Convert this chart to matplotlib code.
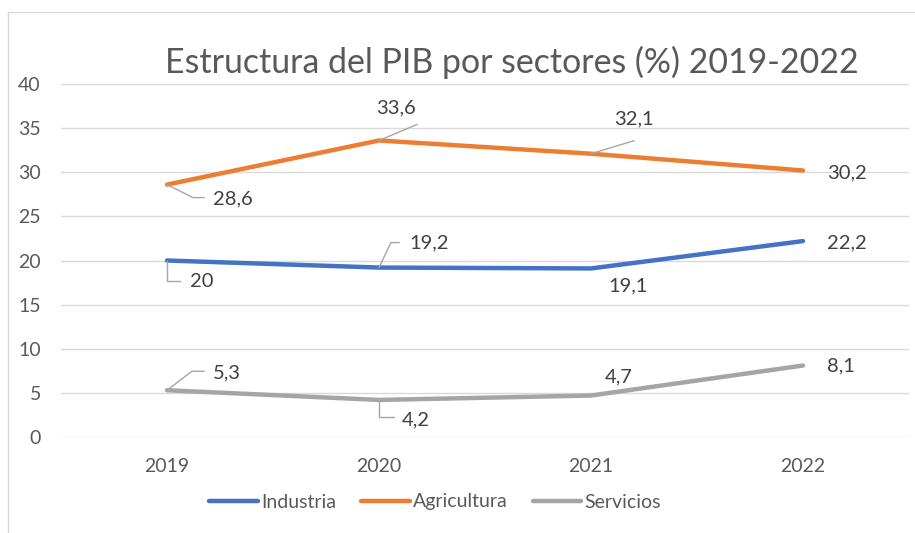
import matplotlib
matplotlib.use("Agg")
import matplotlib.pyplot as plt
from matplotlib.lines import Line2D
from matplotlib.transforms import Affine2D

plt.rcParams["font.family"] = ["Lato", "DejaVu Sans"]

anos = ["2019", "2020", "2021", "2022"]
industria = [20, 19.2, 19.1, 22.2]
agricultura = [28.6, 33.6, 32.1, 30.2]
servicios = [5.3, 4.2, 4.7, 8.1]
series = [("Industria", industria, "#4472C4"),
          ("Agricultura", agricultura, "#ED7D31"),
          ("Servicios", servicios, "#A5A5A5")]

# posicion de cada etiqueta (offset en px) y guia (vertices en px) por serie
etiquetas = {
    "Industria": [((23, -21), "left", [(0, 0), (0, -20), (13, -20)]),
                  ((30, 25), "left", [(0, 0), (12, 25), (20, 25)]),
                  ((37, -17), "center", None),
                  ((44, -2), "center", None)],
    "Agricultura": [((46, -14), "left", [(0, 0), (26, -13), (37, -13)]),
                    ((17, 33), "center", [(0, 0), (38, 16)]),
                    ((43, 35), "center", [(0, 0), (43, 13)]),
                    ((44, -2), "center", None)],
    "Servicios": [((46, 17), "left", [(0, 0), (25, 19), (37, 19)]),
                  ((23, -20), "left", [(0, 0), (0, -17), (15, -17)]),
                  ((28, 19), "center", None),
                  ((38, 0), "center", None)],
}

GRIS = "#595959"
fig = plt.figure(figsize=(9.15, 5.33), dpi=100)
ax = fig.add_axes([61 / 915, 1 - 437 / 533, 848 / 915, 353 / 533])
x = range(len(anos))
ax.set_xlim(-0.5, len(anos) - 0.5)
ax.set_ylim(0, 40)
ax.set_yticks(range(0, 41, 5))
ax.set_xticks(list(x))
ax.set_xticklabels(anos)
ax.grid(axis="y", color="#D9D9D9", lw=1)
ax.set_axisbelow(True)
for s in ax.spines.values():
    s.set_visible(False)
ax.tick_params(length=0, labelsize=14, colors=GRIS)
ax.tick_params(axis="x", pad=15)
ax.tick_params(axis="y", pad=14.5)

for nome, vals, cor in series:
    ax.plot(x, vals, color=cor, lw=3.2, solid_capstyle="round", label=nome)

fig.canvas.draw()
for nome, vals, cor in series:
    for i, v in enumerate(vals):
        (dx, dy), ha, guia = etiquetas[nome][i]
        ax.annotate(f"{v:g}".replace(".", ","), (i, v), xytext=(dx, dy),
                    textcoords="offset pixels", ha=ha, va="center",
                    fontsize=14.5, color="#404040")
        if guia:
            px, py = ax.transData.transform((i, v))
            gx = [p[0] for p in guia]
            gy = [p[1] for p in guia]
            fig.add_artist(Line2D(gx, gy, color="#A6A6A6", lw=1,
                                  transform=Affine2D().translate(px, py)))

fig.text(512 / 915, 1 - 62 / 533, "Estructura del PIB por sectores (%) 2019-2022",
         ha="center", va="center", fontsize=24.4, color=GRIS)

fig.legend(loc="center", bbox_to_anchor=(435 / 915, 1 - 502 / 533), ncol=3,
           frameon=False, fontsize=14, handlelength=2.5, handletextpad=0.15,
           columnspacing=1.3, labelcolor=GRIS)

# borde del area del grafico
fig.add_artist(Line2D([8 / 915, 8 / 915], [0, 1 - 12 / 533], color="#D9D9D9", lw=1))
fig.add_artist(Line2D([8 / 915, 1], [1 - 12 / 533, 1 - 12 / 533], color="#D9D9D9", lw=1))

fig.savefig("out.png", dpi=100)
